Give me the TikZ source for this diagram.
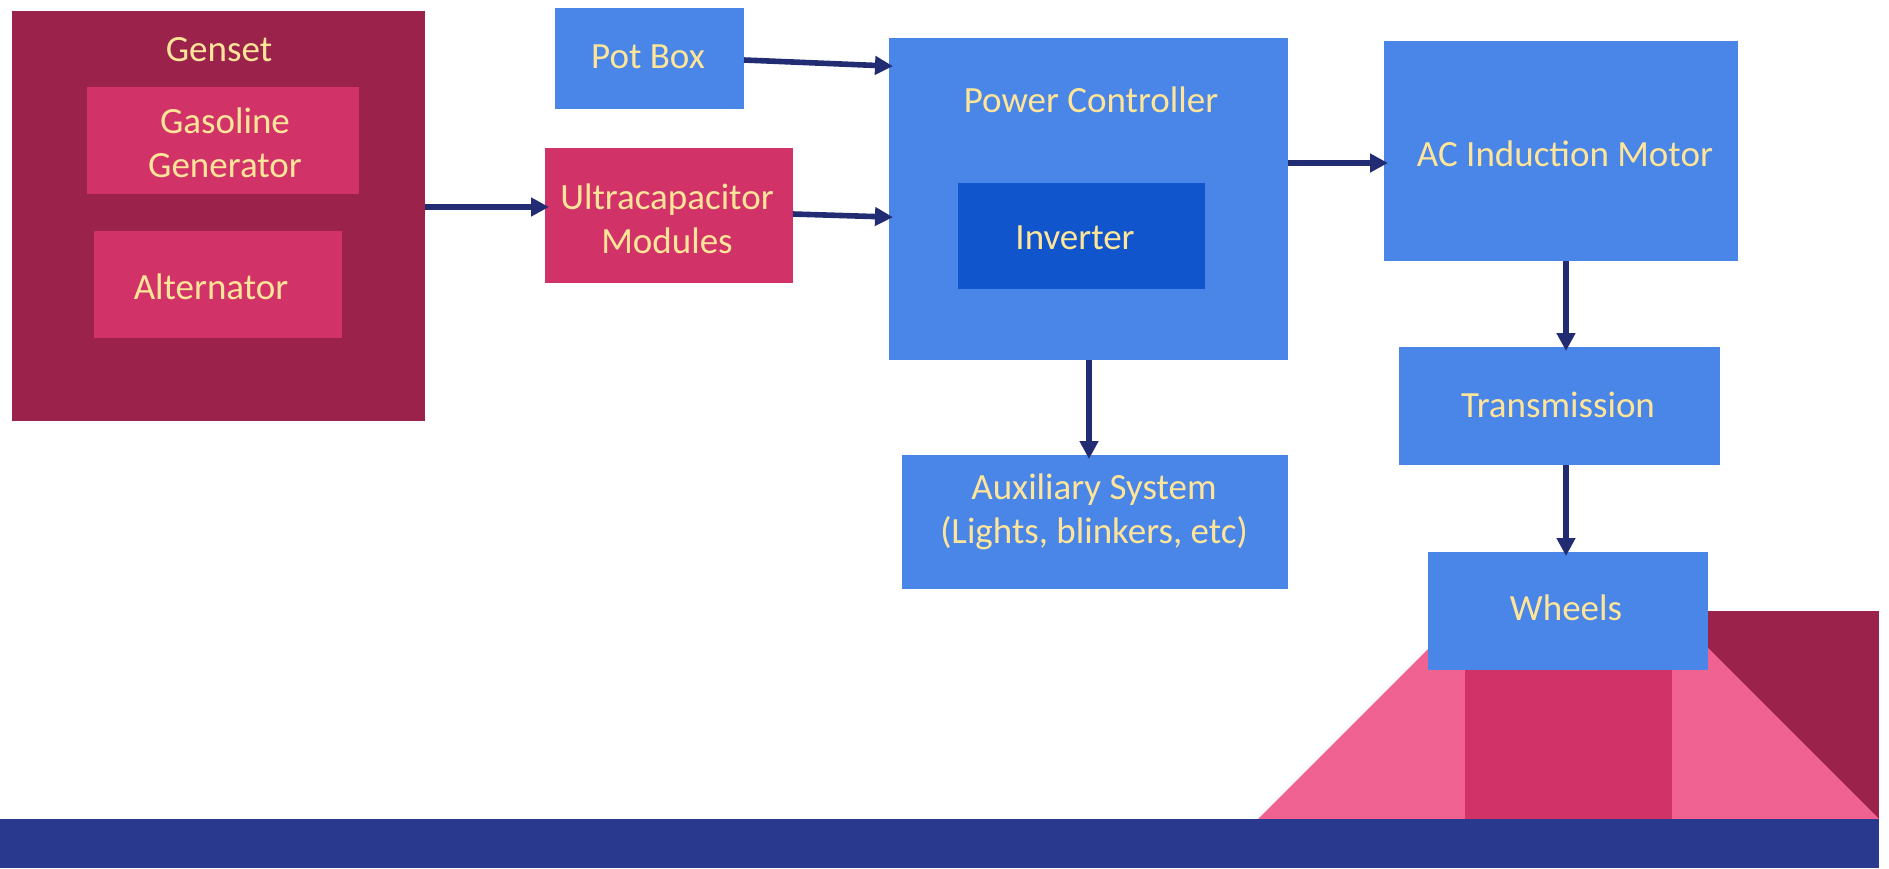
\documentclass[tikz,border=0pt]{standalone}
\usepackage{fontspec}
\setmainfont{Carlito}
\usetikzlibrary{arrows.meta}
\definecolor{genred}{RGB}{155,35,75}
\definecolor{pinkbox}{RGB}{209,51,104}
\definecolor{lightpink}{RGB}{240,98,146}
\definecolor{boxblue}{RGB}{74,134,232}
\definecolor{invblue}{RGB}{17,85,204}
\definecolor{txtyellow}{RGB}{255,229,153}
\definecolor{arrowblue}{RGB}{33,44,114}
\definecolor{band}{RGB}{40,57,142}
\begin{document}
\begin{tikzpicture}[x=0.75pt,y=-0.75pt,
  box/.style={rectangle,draw=none,inner sep=0pt,outer sep=0pt},
  lbl/.style={inner sep=0pt,text=txtyellow,font=\fontsize{27.75}{33.3}\selectfont,align=center},
  arr/.style={draw=arrowblue,line width=4.2pt,-{Triangle[length=13.5pt,width=13.5pt]},shorten >=-3pt}]
\useasboundingbox (0,0) rectangle (1889,868);
% decorative shapes
\fill[genred] (1640,611) rectangle (1879,819);
\fill[lightpink] (1258,819) -- (1437,640) -- (1700,640) -- (1879,819) -- cycle;
\fill[pinkbox] (1465,640) rectangle (1672,819);
\fill[band] (0,819) rectangle (1879,868);
% boxes
\node[box,fill=genred,minimum width=309.75pt,minimum height=307.5pt] (genset) at (218.5,216) {};
\node[box,fill=pinkbox,minimum width=204pt,minimum height=80.25pt] (gas) at (223,140.5) {};
\node[box,fill=pinkbox,minimum width=186pt,minimum height=80.25pt] (alt) at (218,284.5) {};
\node[box,fill=boxblue,minimum width=141.75pt,minimum height=75.75pt] (pot) at (649.5,58.5) {};
\node[box,fill=pinkbox,minimum width=186pt,minimum height=101.25pt] (ultra) at (669,215.5) {};
\node[box,fill=boxblue,minimum width=299.25pt,minimum height=241.5pt] (pc) at (1088.5,199) {};
\node[box,fill=invblue,minimum width=185.25pt,minimum height=79.5pt] (inv) at (1081.5,236) {};
\node[box,fill=boxblue,minimum width=265.5pt,minimum height=165pt] (ac) at (1561,151) {};
\node[box,fill=boxblue,minimum width=240.75pt,minimum height=88.5pt] (trans) at (1559.5,406) {};
\node[box,fill=boxblue,minimum width=210pt,minimum height=88.5pt] (wheels) at (1568,611) {};
\node[box,fill=boxblue,minimum width=289.5pt,minimum height=100.5pt] (aux) at (1095,522) {};
% labels
\node[lbl] (tgenset) at (219,50) {Genset};
\node[lbl] (tgas) at (225,143) {Gasoline\\Generator};
\node[lbl] (talt) at (211,287) {Alternator};
\node[lbl] (tpot) at (648,57) {Pot Box};
\node[lbl] (tultra) at (667,219) {Ultracapacitor\\Modules};
\node[lbl] (tpc) at (1091,100) {Power Controller};
\node[lbl] (tinv) at (1075,238) {Inverter};
\node[lbl] (tac) at (1565,154) {AC Induction Motor};
\node[lbl] (ttrans) at (1558,405) {Transmission};
\node[lbl] (twheels) at (1566,608) {Wheels};
\node[lbl] (taux) at (1094,512) {Auxiliary System\\(Lights, blinkers, etc)};
% connectors
\draw[arr] (genset.east |- 0,207) -- (ultra.west |- 0,207);
\draw[arr] (pot.east |- 0,60) -- (pc.west |- 0,66);
\draw[arr] (ultra.east |- 0,214) -- (pc.west |- 0,217);
\draw[arr] (pc.east |- 0,163) -- (ac.west |- 0,163);
\draw[arr] (1089,0 |- pc.south) -- (1089,0 |- aux.north);
\draw[arr] (1566,0 |- ac.south) -- (1566,0 |- trans.north);
\draw[arr] (1566,0 |- trans.south) -- (1566,0 |- wheels.north);
\end{tikzpicture}
\end{document}
